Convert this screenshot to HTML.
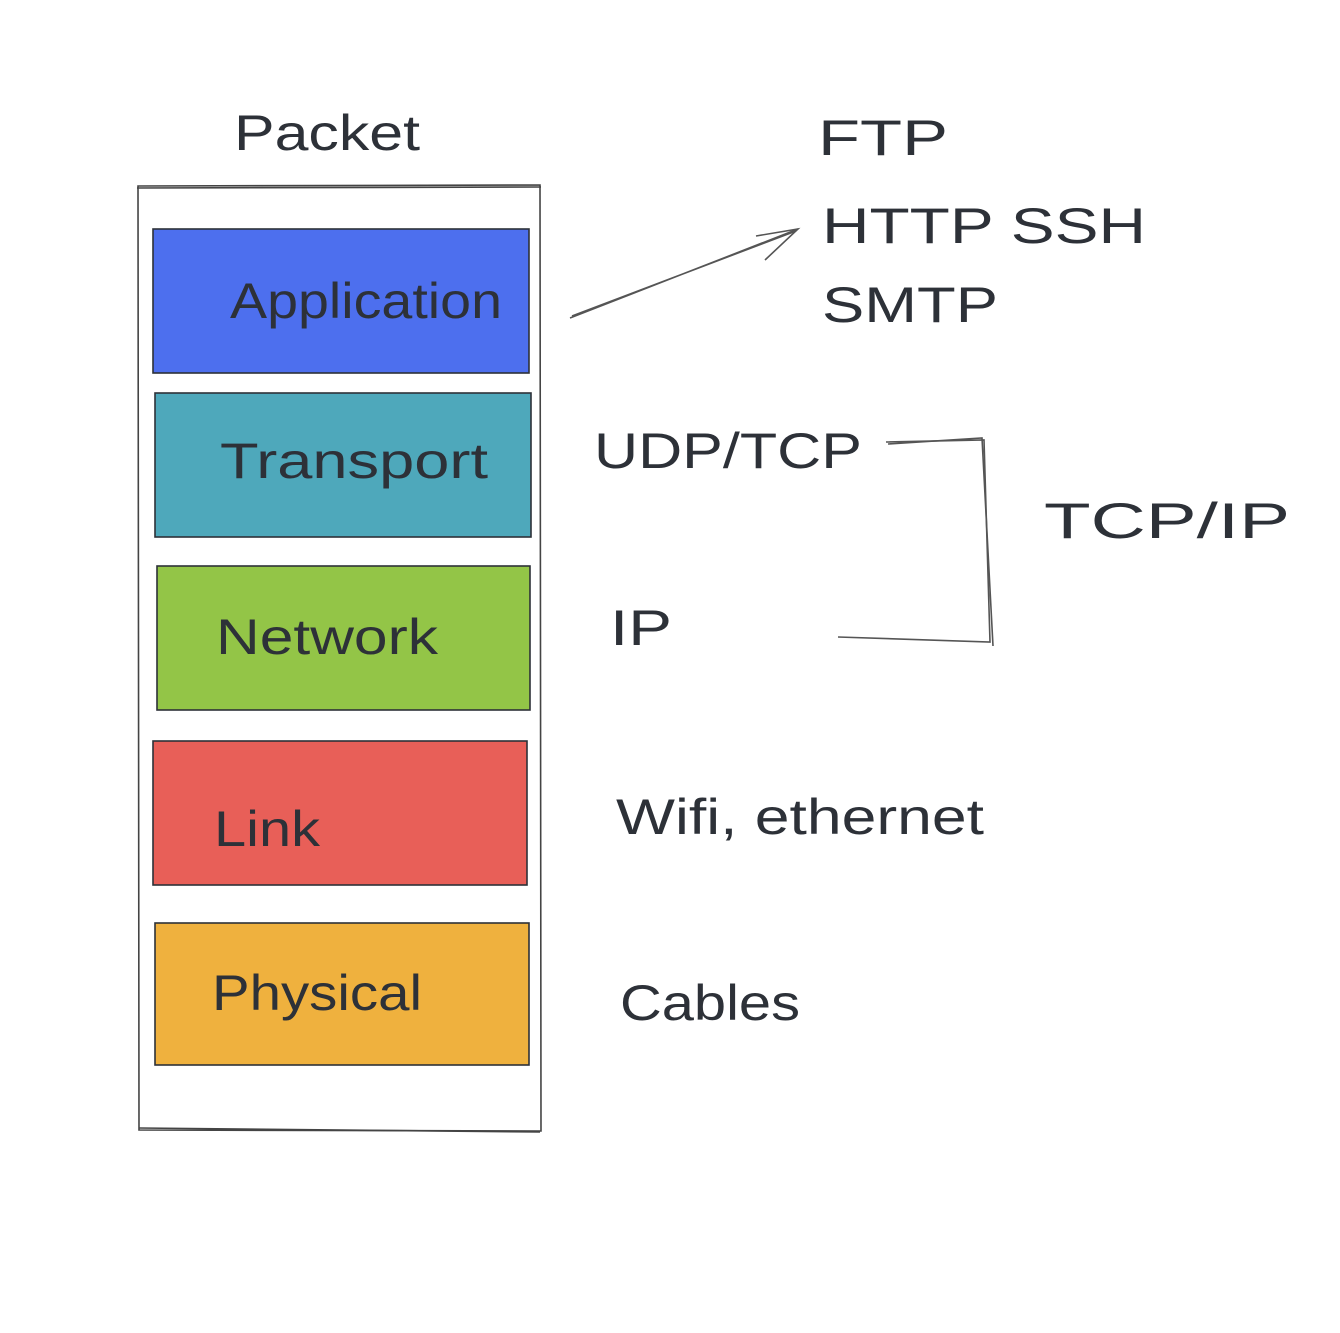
<!DOCTYPE html>
<html><head><style>
html,body{margin:0;padding:0;background:#fff;}
svg text{font-family:"Liberation Sans",sans-serif;fill:#2d3138;}
</style></head><body>
<svg width="1340" height="1328" viewBox="0 0 1340 1328" xmlns="http://www.w3.org/2000/svg">
<rect width="1340" height="1328" fill="#fff"/>
<g fill="none" stroke="#444" stroke-width="1.6">
<path d="M138 186 L540 185 L541 1131 L139 1130 Z"/>
<path d="M137 188 L541 187 M139 1128 L540 1132"/>
</g>
<rect x="153" y="229" width="376" height="144" fill="#4d6fee" stroke="#2d3138" stroke-width="1.6"/>
<rect x="155" y="393" width="376" height="144" fill="#4ea8bb" stroke="#2d3138" stroke-width="1.6"/>
<rect x="157" y="566" width="373" height="144" fill="#93c547" stroke="#2d3138" stroke-width="1.6"/>
<rect x="153" y="741" width="374" height="144" fill="#e85f58" stroke="#2d3138" stroke-width="1.6"/>
<rect x="155" y="923" width="374" height="142" fill="#efb13e" stroke="#2d3138" stroke-width="1.6"/>
<g font-size="50" lengthAdjust="spacingAndGlyphs">
<text x="234" y="150" textLength="186" lengthAdjust="spacingAndGlyphs">Packet</text>
<text x="230" y="318" textLength="272" lengthAdjust="spacingAndGlyphs">Application</text>
<text x="220" y="478" textLength="268" lengthAdjust="spacingAndGlyphs">Transport</text>
<text x="216" y="654" textLength="222" lengthAdjust="spacingAndGlyphs">Network</text>
<text x="214" y="846" textLength="106" lengthAdjust="spacingAndGlyphs">Link</text>
<text x="212" y="1010" textLength="210" lengthAdjust="spacingAndGlyphs">Physical</text>
<text x="818" y="155" textLength="130" lengthAdjust="spacingAndGlyphs">FTP</text>
<text x="822" y="243" textLength="324" lengthAdjust="spacingAndGlyphs">HTTP SSH</text>
<text x="822" y="322" textLength="176" lengthAdjust="spacingAndGlyphs">SMTP</text>
<text x="594" y="468" textLength="268" lengthAdjust="spacingAndGlyphs">UDP/TCP</text>
<text x="1044" y="538" textLength="246" lengthAdjust="spacingAndGlyphs">TCP/IP</text>
<text x="610" y="645" textLength="62" lengthAdjust="spacingAndGlyphs">IP</text>
<text x="616" y="834" textLength="368" lengthAdjust="spacingAndGlyphs">Wifi, ethernet</text>
<text x="620" y="1020" textLength="180" lengthAdjust="spacingAndGlyphs">Cables</text>
</g>
<g fill="none" stroke="#555" stroke-width="1.6">
<path d="M570 318 L798 229 M572 316 L796 231"/>
<path d="M756 236 L798 229 L765 260"/>
<path d="M886 442 L984 440 L990 642 L838 637"/>
<path d="M888 444 L982 438 L993 646"/>
</g>
</svg>
</body></html>
